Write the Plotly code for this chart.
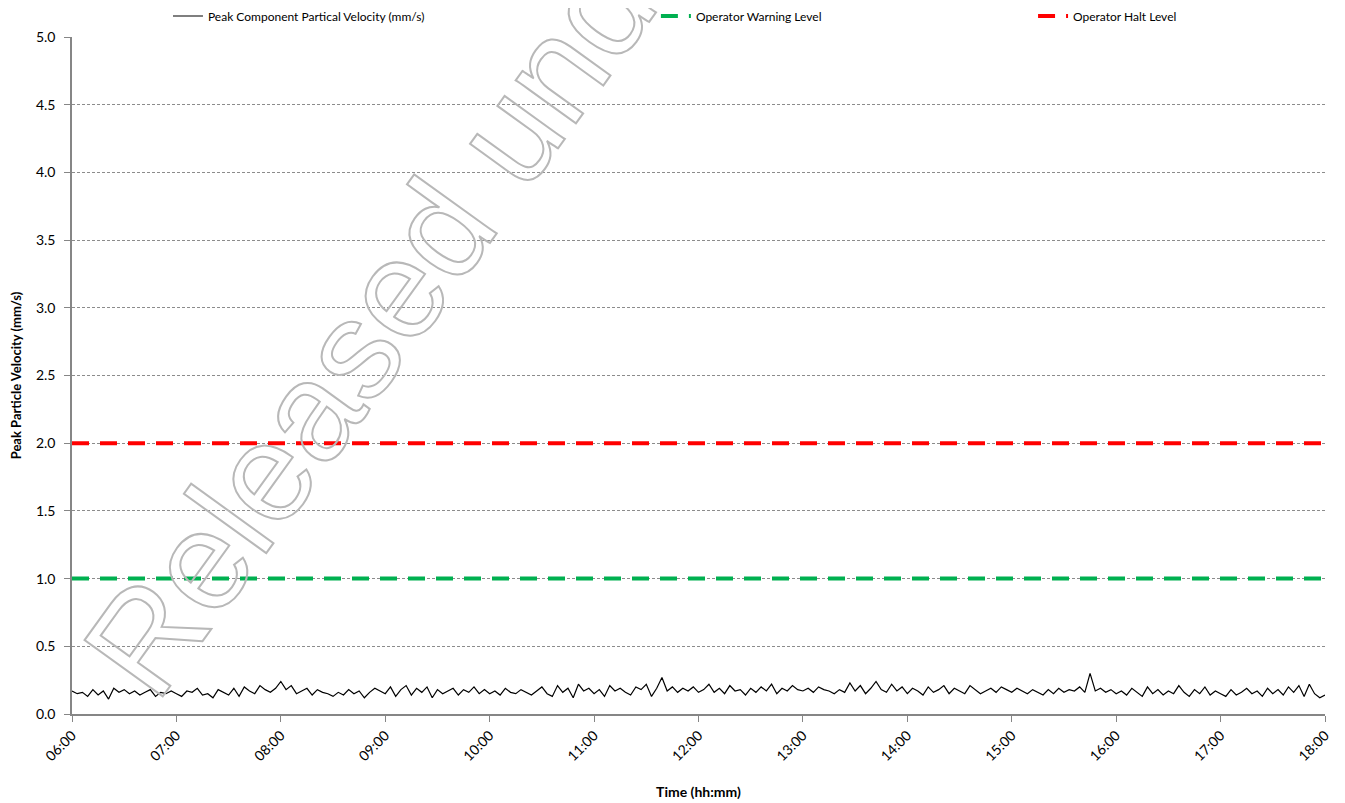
import plotly.graph_objects as go
import pandas as pd

start_time = "2000-01-01 06:00"
interval_minutes = 3
ppv = [
    0.17,0.15,0.16,0.13,0.18,0.14,0.17,0.11,0.19,0.16,0.18,0.15,0.17,0.14,0.16,0.18,0.13,0.16,0.15,0.17,
    0.15,0.13,0.17,0.16,0.19,0.14,0.15,0.12,0.18,0.16,0.14,0.19,0.13,0.20,0.17,0.15,0.21,0.18,0.16,0.19,
    0.24,0.18,0.21,0.15,0.17,0.19,0.14,0.18,0.16,0.15,0.13,0.16,0.14,0.18,0.15,0.17,0.12,0.16,0.19,0.17,
    0.15,0.20,0.13,0.18,0.21,0.14,0.19,0.16,0.20,0.12,0.18,0.15,0.17,0.19,0.14,0.18,0.16,0.20,0.15,0.18,
    0.15,0.17,0.14,0.19,0.16,0.15,0.18,0.16,0.14,0.17,0.20,0.15,0.13,0.21,0.16,0.19,0.12,0.22,0.17,0.19,
    0.15,0.18,0.13,0.21,0.17,0.19,0.16,0.14,0.20,0.18,0.22,0.13,0.19,0.27,0.17,0.20,0.16,0.19,0.17,0.20,
    0.16,0.18,0.22,0.16,0.19,0.15,0.21,0.17,0.18,0.14,0.19,0.16,0.20,0.17,0.22,0.15,0.19,0.17,0.21,0.18,
    0.17,0.19,0.16,0.20,0.18,0.17,0.15,0.18,0.16,0.23,0.17,0.21,0.15,0.19,0.24,0.18,0.16,0.22,0.17,0.20,
    0.15,0.19,0.17,0.14,0.20,0.16,0.18,0.21,0.15,0.19,0.17,0.15,0.21,0.18,0.15,0.17,0.19,0.16,0.20,0.18,
    0.16,0.19,0.17,0.15,0.18,0.16,0.14,0.18,0.15,0.19,0.16,0.18,0.17,0.20,0.16,0.30,0.17,0.19,0.16,0.18,
    0.15,0.17,0.14,0.19,0.16,0.13,0.20,0.15,0.18,0.14,0.17,0.15,0.21,0.16,0.13,0.18,0.15,0.20,0.14,0.17,
    0.15,0.13,0.18,0.14,0.16,0.19,0.15,0.17,0.13,0.19,0.15,0.18,0.14,0.20,0.16,0.21,0.13,0.22,0.15,0.12,
    0.14,
]
warning_level = 1.0
halt_level = 2.0
x_range = ["2000-01-01 06:00", "2000-01-01 18:00"]
watermark = "Released under"

times = pd.date_range(start_time, periods=len(ppv), freq=f"{interval_minutes}min")

FONT = "Lato"
fig = go.Figure()
fig.add_trace(go.Scatter(x=times, y=ppv, mode="lines", name="Peak Component Partical Velocity (mm/s)",
                         line=dict(color="black", width=1.2), legend="legend", showlegend=True))
fig.add_trace(go.Scatter(x=x_range, y=[warning_level, warning_level], mode="lines", name="Operator Warning Level",
                         line=dict(color="#00b050", width=4, dash="17px,11px"), legend="legend2", showlegend=True))
fig.add_trace(go.Scatter(x=x_range, y=[halt_level, halt_level], mode="lines", name="Operator Halt Level",
                         line=dict(color="#ff0000", width=4, dash="17px,11px"), legend="legend3", showlegend=True))

# page body has an 8px margin; figure sized/offset to compensate
W, H = 1337, 795
leg_common = dict(orientation="h", yref="container", y=1 - 8/H, yanchor="middle", xanchor="left",
                  font=dict(family=FONT, size=12, color="black"), bgcolor="rgba(0,0,0,0)")
fig.update_layout(
    width=W, height=H,
    showlegend=True,
    margin=dict(l=64, r=20, t=29, b=89, autoexpand=False),
    paper_bgcolor="white", plot_bgcolor="white",
    font=dict(family=FONT, color="black"),
    legend=dict(x=0.0766, **leg_common),
    legend2=dict(x=0.466, **leg_common),
    legend3=dict(x=0.767, **leg_common),
    xaxis=dict(type="date", range=x_range, tickformat="%H:%M", dtick=3600000, tick0="2000-01-01 06:00",
               tickangle=-45, showgrid=False, showline=True, linecolor="#868686", linewidth=1.5,
               ticks="outside", ticklen=6, tickcolor="#868686", tickfont=dict(size=14, family=FONT),
               title=dict(text="<b>Time (hh:mm)</b>", font=dict(size=14, family=FONT), standoff=24),
               zeroline=False, automargin=False),
    yaxis=dict(range=[0, 5], dtick=0.5, tickformat=".1f", showgrid=True, gridcolor="#8c8c8c",
               griddash="3px,2px", gridwidth=1, showline=True, linecolor="#868686", linewidth=1.5,
               ticks="outside", ticklen=6, tickcolor="#868686", tickfont=dict(size=14, family=FONT),
               ticklabelstandoff=6,
               title=dict(text="<b>Peak Particle Velocity (mm/s)</b>", font=dict(size=13, family=FONT), standoff=12),
               zeroline=False, automargin=False),
)

fig.add_annotation(text=watermark, xref="paper", yref="paper", x=0.2666, y=0.6455,
                   xanchor="center", yanchor="middle", showarrow=False, textangle=-54.2,
                   font=dict(family="Liberation Sans", size=140, color="#b8b8b8"))

post = """
var gd = document.getElementById('{plot_id}');
gd.querySelectorAll('text.annotation-text').forEach(function(t){
  t.style.fill = 'none'; t.style.stroke = '#b8b8b8'; t.style.strokeWidth = '2px';
});
"""
fig.write_html("out.html", post_script=post)
